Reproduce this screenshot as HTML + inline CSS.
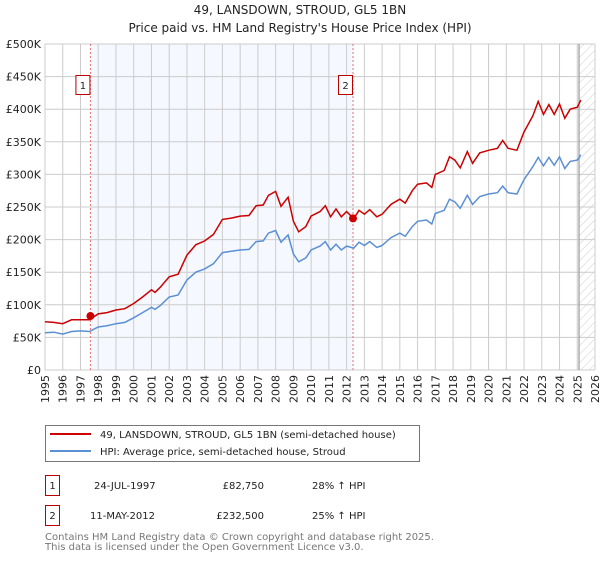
<!DOCTYPE html>
<html><head><meta charset="utf-8"><style>
body{margin:0;background:#fff;width:600px;height:560px;overflow:hidden;font-family:"DejaVu Sans","Liberation Sans",sans-serif;}
svg text{font-family:"DejaVu Sans","Liberation Sans",sans-serif;}
</style></head><body>
<svg id="chart" width="600" height="560" xmlns="http://www.w3.org/2000/svg">
<defs><pattern id="hatch" width="6" height="6" patternUnits="userSpaceOnUse" patternTransform="rotate(45)"><line x1="0" y1="0" x2="0" y2="6" stroke="#ccc" stroke-width="1"/></pattern></defs>
<text x="300" y="14" text-anchor="middle" font-size="12" fill="#222">49, LANSDOWN, STROUD, GL5 1BN</text>
<text x="300" y="32" text-anchor="middle" font-size="12" fill="#222">Price paid vs. HM Land Registry's House Price Index (HPI)</text>
<g id="plot"></g>
<g>
<rect x="45.5" y="425.5" width="374" height="36" fill="#fff" stroke="#777"/>
<line x1="50" y1="434" x2="91" y2="434" stroke="#cc0000" stroke-width="2"/>
<text x="100" y="438" font-size="10" fill="#222">49, LANSDOWN, STROUD, GL5 1BN (semi-detached house)</text>
<line x1="50" y1="451" x2="91" y2="451" stroke="#5b8fd4" stroke-width="2"/>
<text x="100" y="455" font-size="10" fill="#222">HPI: Average price, semi-detached house, Stroud</text>
</g>
<g font-size="10" fill="#222">
<rect x="45.5" y="475.5" width="14" height="20" fill="#fff" stroke="#b00"/><text x="52.5" y="489" text-anchor="middle">1</text>
<text x="94" y="489">24-JUL-1997</text><text x="264" y="489" text-anchor="end">£82,750</text><text x="312" y="489">28% ↑ HPI</text>
<rect x="45.5" y="505.5" width="14" height="20" fill="#fff" stroke="#b00"/><text x="52.5" y="519" text-anchor="middle">2</text>
<text x="90" y="519">11-MAY-2012</text><text x="264" y="519" text-anchor="end">£232,500</text><text x="312" y="519">25% ↑ HPI</text>
</g>
<g font-size="10" fill="#777">
<text x="45" y="540">Contains HM Land Registry data © Crown copyright and database right 2025.</text>
<text x="45" y="550">This data is licensed under the Open Government Licence v3.0.</text>
</g>
</svg>
<script>
const years=[1995,1995.5,1996,1996.5,1997,1997.5,1998,1998.5,1999,1999.5,2000,2000.5,2001,2001.2,2001.5,2002,2002.5,2003,2003.5,2004,2004.5,2005,2005.5,2006,2006.5,2006.9,2007.3,2007.6,2008,2008.3,2008.7,2009,2009.3,2009.7,2010,2010.5,2010.8,2011.1,2011.4,2011.7,2012,2012.4,2012.7,2013,2013.3,2013.7,2014,2014.5,2015,2015.3,2015.7,2016,2016.5,2016.8,2017,2017.5,2017.8,2018.1,2018.4,2018.8,2019.1,2019.5,2020,2020.5,2020.8,2021.1,2021.6,2022,2022.5,2022.8,2023.1,2023.4,2023.7,2024,2024.3,2024.6,2025,2025.2];
const hpiValues=[57,58,55,59,60,59,66,68,71,73,80,88,96,93,99,112,115,138,150,155,163,180,182,184,185,197,198,210,214,196,207,178,166,172,184,190,197,184,193,184,190,187,196,191,197,188,191,203,210,205,220,228,230,224,240,245,262,258,248,268,254,266,270,272,282,272,270,292,312,326,313,326,314,327,309,320,322,330];
const priceValues=[74,73,71,77,77,77,86,88,92,94,102,112,123,119,127,143,147,176,192,198,208,231,233,236,237,252,253,268,274,251,265,228,212,220,236,243,252,235,247,235,243,232,245,239,246,235,239,254,262,256,275,285,287,280,300,306,327,322,310,335,317,333,337,340,352,340,337,365,390,412,392,407,392,408,386,400,403,414];
const saleYears=[1997.56,2012.36];
const saleValues=[82.75,232.5];
const saleLabels=["1","2"];
const yTicks=[0,50,100,150,200,250,300,350,400,450,500];
const yTickLabels=["£0","£50K","£100K","£150K","£200K","£250K","£300K","£350K","£400K","£450K","£500K"];
const xTicks=[1995,1996,1997,1998,1999,2000,2001,2002,2003,2004,2005,2006,2007,2008,2009,2010,2011,2012,2013,2014,2015,2016,2017,2018,2019,2020,2021,2022,2023,2024,2025,2026];

const L=45,R=595,T=44,B=370;
const x=v=>L+(v-1995)/31*(R-L);
const y=v=>B-v/500*(B-T);
const NS="http://www.w3.org/2000/svg";
const g=document.getElementById('plot');
function mk(t,a){const e=document.createElementNS(NS,t);for(const k in a)e.setAttribute(k,a[k]);g.appendChild(e);return e;}
let e;
e=mk('rect',{x:x(saleYears[0]),y:T,width:x(saleYears[1])-x(saleYears[0]),height:B-T,fill:'#f5f8fe'});


e=mk('rect',{x:x(2025.1),y:T,width:R-x(2025.1),height:B-T,fill:'url(#hatch)'});


yTicks.forEach((t,i)=>{
 e=mk('line',{x1:L,x2:R,y1:y(t),y2:y(t),stroke:'#ccc','stroke-width':1});
 
 
 e=mk('text',{x:L-4,y:y(t)+4,'text-anchor':'end','font-size':11,fill:'#222'});
 e.textContent=yTickLabels[i];
 
 
});
xTicks.forEach(t=>{
 e=mk('line',{x1:x(t),x2:x(t),y1:T,y2:B,stroke:'#ccc','stroke-width':1});
 
 
 e=mk('text',{x:0,y:0,'text-anchor':'end','font-size':11,fill:'#222',transform:`translate(${x(t)+4},${B+5}) rotate(-90)`});
 e.textContent=t;
 
 
});
e=mk('line',{x1:x(2025.1),x2:x(2025.1),y1:T,y2:B,stroke:'#999','stroke-width':1.2});


saleYears.forEach((s,i)=>{
 e=mk('line',{x1:x(s),x2:x(s),y1:T,y2:B,stroke:'#e57373','stroke-width':1,'stroke-dasharray':'2,2'});
 
 
 e=mk('rect',{x:x(s)-14.5,y:75.5,width:14,height:19,fill:'#fff',stroke:'#b00'});
 
 
 e=mk('text',{x:x(s)-7.5,y:89,'text-anchor':'middle','font-size':10,fill:'#222'});
 e.textContent=saleLabels[i];
 
 
});
const pts=a=>years.map((t,i)=>x(t).toFixed(1)+','+y(a[i]).toFixed(1)).join(' ');
e=mk('polyline',{points:pts(hpiValues),fill:'none',stroke:'#5b8fd4','stroke-width':1.5});


e=mk('polyline',{points:pts(priceValues),fill:'none',stroke:'#cc0000','stroke-width':1.5});


saleYears.forEach((s,i)=>{
 e=mk('circle',{cx:x(s),cy:y(saleValues[i]),r:4,fill:'#cc0000'});
 
 
});
</script>
</body></html>
